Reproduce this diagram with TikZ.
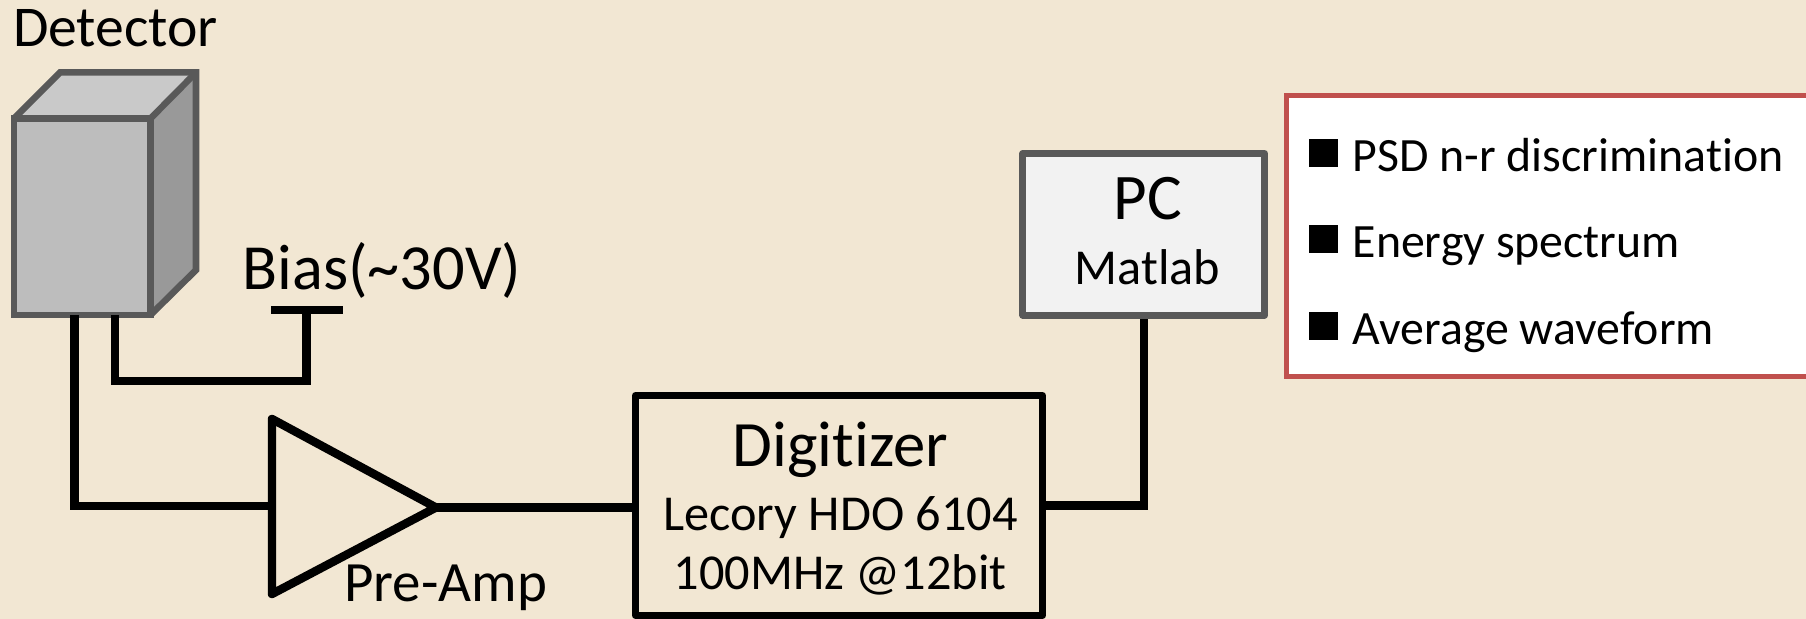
\documentclass[tikz,border=0pt]{standalone}
\usepackage{fontspec}
\setmainfont[Ligatures=NoCommon]{Carlito}
\definecolor{paper}{HTML}{F2E7D3}
\definecolor{boxgray}{HTML}{595959}
\definecolor{boxred}{HTML}{C0504D}
\begin{document}
\begin{tikzpicture}[x=0.01cm,y=-0.01cm,
	wire/.style={line width=2.4pt,black},
	block/.style={draw=black,line width=1.85pt,line join=round,inner sep=0pt},
	face/.style={draw=boxgray,line width=1.85pt},
	label/.style={inner sep=0pt,anchor=base},
	item/.style={inner sep=0pt,anchor=base west,font=\fontsize{13.6}{16}\selectfont},
	mark box/.style={fill=black,inner sep=0pt,minimum width=0.295cm,minimum height=0.28cm}]
	\clip (0,0) rectangle (1806,619);
	\fill[paper] (0,0) rectangle (1806,619);
	\fill[black!21] (14,118.5) -- (60,72.5) -- (196,72.5) -- (150.5,118.5) -- cycle;
	\fill[black!40] (150.5,118.5) -- (196,72.5) -- (196,270) -- (150.5,315) -- cycle;
	\draw[face] (196,72.5) -- (150.5,118.5);
	\draw[face] (14,118.5) -- (60,72.5) -- (196,72.5) -- (196,270) -- (150.5,315);
	\node[face,fill=black!26,inner sep=0pt,minimum width=1.365cm,minimum height=1.965cm] (front) at (82.25,216.75) {};
	\node[label,font=\fontsize{16.4}{19}\selectfont] (detector) at (115.5,47) {Detector};
	\node[label,font=\fontsize{18.3}{22}\selectfont] (bias) at (382,289.5) {Bias(\char`\~30V)};
	\coordinate (leada) at (74.6,315);
	\coordinate (leadb) at (115,315);
	\coordinate (biastap) at (306.4,310);
	\coordinate (biasleft) at (271.4,310);
	\coordinate (biasright) at (343,310);
	\coordinate (biascorner) at (306.4,381);
	\draw[wire] (leadb) |- (biascorner) -- (biastap);
	\draw[wire] (biasleft) -- (biasright);
	\coordinate (ampin) at (272,506);
	\coordinate (ampout) at (436,507.5);
	\draw[wire,line join=round] (272,419) -- (ampout) -- (272,594) -- cycle;
	\node[label,font=\fontsize{16.2}{19}\selectfont] (preamp) at (445.5,602) {Pre-Amp};
	\draw[wire] (leada) |- (ampin);
	\node[block,minimum width=4.07cm,minimum height=2.2cm] (digitizer) at (839,505.5) {};
	\node[label,font=\fontsize{18.4}{22}\selectfont] (digitizername) at (840.5,467) {Digitizer};
	\node[label,font=\fontsize{14.3}{17}\selectfont] (digitizerscope) at (840.5,531) {Lecory HDO 6104};
	\node[label,font=\fontsize{14.3}{17}\selectfont] (digitizerrate) at (840,590) {100MHz @12bit};
	\draw[wire] (ampout) -- (ampout -| digitizer.west);
	\node[block,draw=boxgray,fill=black!5,line width=2pt,minimum width=2.415cm,minimum height=1.615cm] (pc) at (1143.75,234.25) {};
	\node[label,font=\fontsize{18.5}{22}\selectfont] (pcname) at (1148,220) {PC};
	\node[label,font=\fontsize{14.3}{17}\selectfont] (pcsoft) at (1147.5,285) {Matlab};
	\draw[wire] (digitizer.east) -| (pc.south);
	\node[draw=boxred,fill=white,line width=1.45pt,inner sep=0pt,minimum width=5.335cm,minimum height=2.805cm] (results) at (1553.25,235.75) {};
	\node[mark box] (marka) at (1323.25,153) {};
	\node[mark box] (markb) at (1323.25,239) {};
	\node[mark box] (markc) at (1323.25,326) {};
	\node[item] (psd) at (1352,172) {PSD n-r discrimination};
	\node[item] (energy) at (1352,258) {Energy spectrum};
	\node[item] (average) at (1352,345) {Average waveform};
\end{tikzpicture}
\end{document}
